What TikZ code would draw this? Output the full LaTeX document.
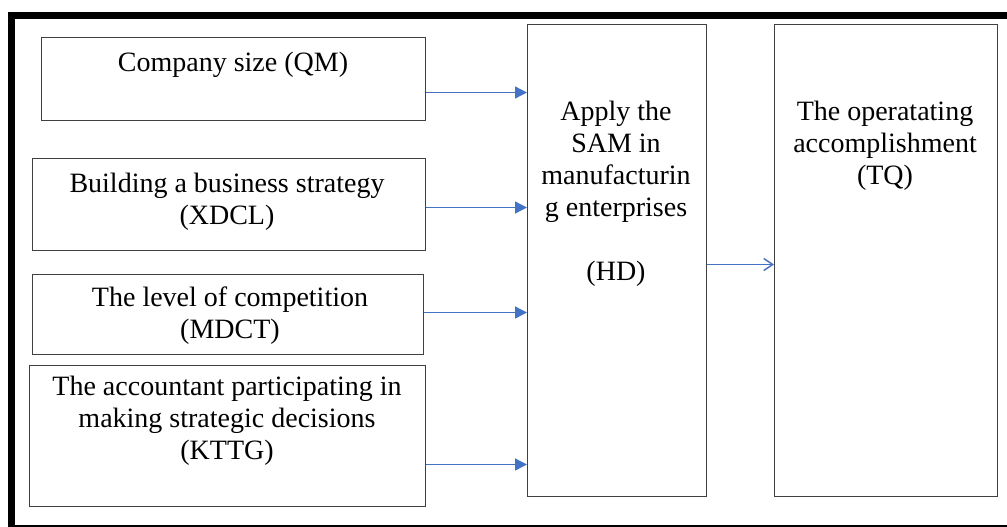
\documentclass[tikz,border=0pt]{standalone}
\usepackage{fontspec}
\setmainfont{Liberation Serif}
\usetikzlibrary{arrows.meta}
\definecolor{linkblue}{HTML}{4472C4}

\tikzset{
  box/.style={draw=black!75, line width=1pt, inner sep=0pt, anchor=north west},
  txt/.style={align=center, font=\fontsize{28}{32}\selectfont, inner sep=0pt},
  link/.style={draw=linkblue, line width=1.4pt, -{Triangle[length=12pt,width=12pt]}},
  outlink/.style={draw=linkblue, line width=1.4pt, -{Straight Barb[length=9pt,width=12pt]}},
}

\begin{document}
\begin{tikzpicture}[x=1pt, y=-1pt]
			%%%%% FRAME %%%%%
			\useasboundingbox (0,0) rectangle (1007,527);
			\clip (0,0) rectangle (1007,527);
			\draw[line width=7pt] (11.5,15.5) rectangle (1015,528);
			
			%%%%% BOXES %%%%%
			\node[box, minimum width=384pt, minimum height=83pt] (qm) at (41,37) {};
			\node[box, minimum width=393pt, minimum height=92pt] (xdcl) at (32,158) {};
			\node[box, minimum width=391pt, minimum height=80pt] (mdct) at (32,274) {};
			\node[box, minimum width=396pt, minimum height=141pt] (kttg) at (29,365) {};
			\node[box, minimum width=179pt, minimum height=472pt] (hd) at (527,24) {};
			\node[box, minimum width=223pt, minimum height=472pt] (tq) at (774,24) {};
			
			%%%%% TEXTS %%%%%
			\node[txt] (qmtxt) at (233,65) {Company size (QM)};
			\node[txt] (xdcltxt) at (227,202) {Building a business strategy\\(XDCL)};
			\node[txt] (mdcttxt) at (230,316) {The level of competition\\(MDCT)};
			\node[txt] (kttgtxt) at (227,421) {The accountant participating in\\making strategic decisions\\(KTTG)};
			\node[txt] (hdtxt) at (616,194) {Apply the\\SAM in\\manufacturin\\g enterprises\\[32pt](HD)};
			\node[txt] (tqtxt) at (885,146) {The operatating\\accomplishment\\(TQ)};
			
			%%%%% LINKS %%%%%
			\coordinate (a1) at ([yshift=-13.5pt]qm.east);
			\coordinate (a2) at ([yshift=-3pt]xdcl.east);
			\coordinate (a3) at ([yshift=2pt]mdct.east);
			\coordinate (a4) at ([yshift=-28.5pt]kttg.east);
			\coordinate (a5) at ([yshift=-4pt]hd.east);
			\draw[link] (a1) -- (a1 -| hd.west);
			\draw[link] (a2) -- (a2 -| hd.west);
			\draw[link] (a3) -- (a3 -| hd.west);
			\draw[link] (a4) -- (a4 -| hd.west);
			\draw[outlink] (a5) -- (a5 -| tq.west);
\end{tikzpicture}
\end{document}
